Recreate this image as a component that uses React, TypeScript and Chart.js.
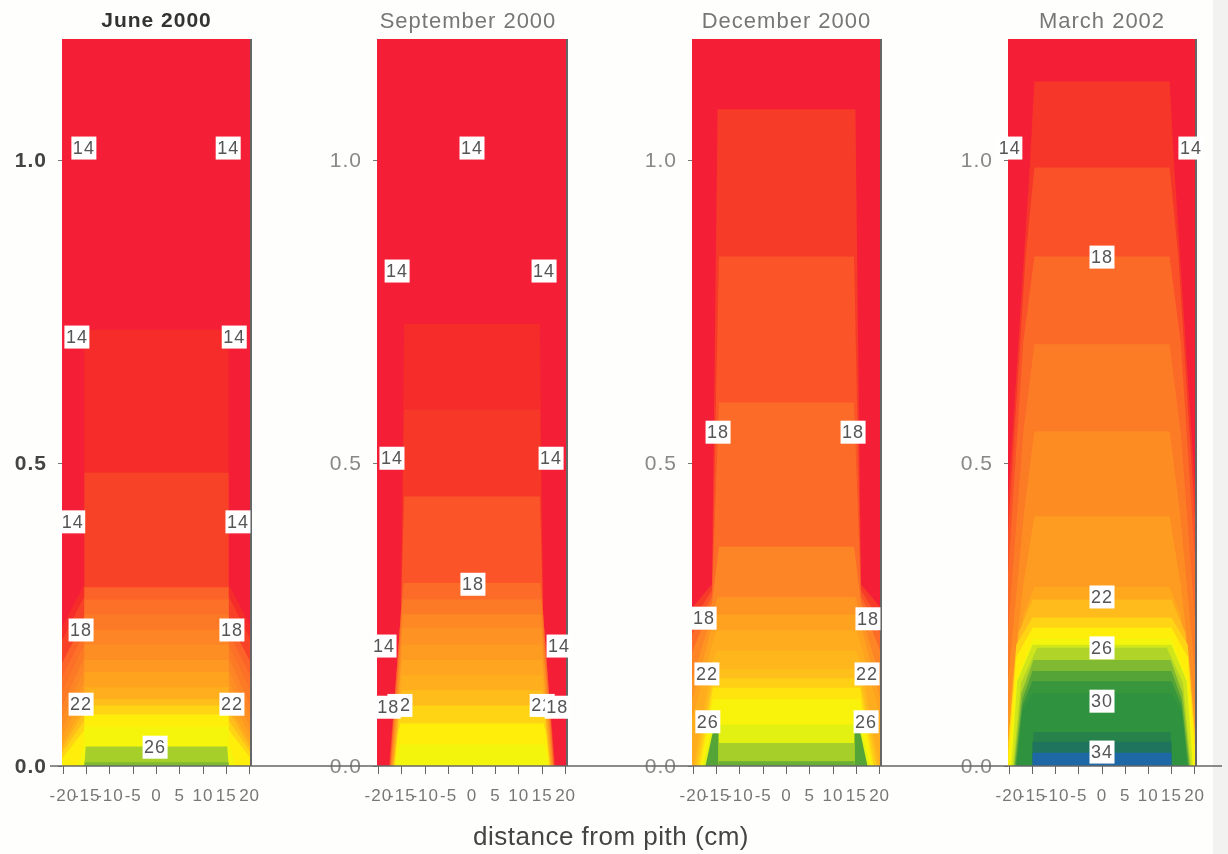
import React, { useEffect, useRef } from "react";
import { Chart, registerables } from "chart.js";

Chart.register(...registerables);

// Shared axis values
const xTickValues = [-20, -15, -10, -5, 0, 5, 10, 15, 20];
const yTickValues = [0, 0.5, 1.0];
const xLabel = "distance from pith (cm)";

// Temperature colour key
const paletteTemps = [14, 14.6, 15.5, 16.5, 17.4, 18.2, 19, 20, 21, 22, 23, 24, 25, 26, 27, 28, 29, 30, 32, 33, 34];
const paletteColors = [
  [244, 30, 55], [245, 44, 42], [248, 66, 40], [251, 88, 40], [252, 108, 40], [252, 122, 38], [253, 136, 36],
  [254, 152, 34], [255, 168, 30], [255, 186, 28], [255, 212, 20], [255, 238, 10], [240, 248, 12], [176, 212, 40],
  [128, 186, 50], [84, 164, 56], [56, 150, 60], [46, 146, 62], [38, 130, 74], [30, 116, 92], [30, 104, 166],
];

// June 2000 contour bands
const juneTemps = [14, 14.6, 15.5, 17, 17.6, 18.2, 18.8, 19.4, 20, 20.7, 21.4, 22.2, 23, 24, 24.7, 26.2, 27];
const juneTops = [1.2, 0.72, 0.484, 0.295, 0.275, 0.25, 0.225, 0.2, 0.175, 0.155, 0.13, 0.11, 0.1, 0.085, 0.065, 0.032, 0.006];
const juneTopWidths = [21, 15.5, 15.5, 15.5, 15.5, 15.5, 15.5, 15.5, 15.5, 15.5, 15.5, 15.5, 15.5, 15.5, 15.5, 15.2, 15.4];
const juneShoulderYs = [0.6, 0.3, 0.28, 0.24, 0.22, 0.2, 0.18, 0.16, 0.14, 0.12, 0.1, 0.09, 0.075, 0.06, 0.04, 0.01, 0.003];
const juneShoulderWidths = [21, 15.5, 15.5, 15.5, 15.5, 15.5, 15.5, 15.5, 15.5, 15.5, 15.5, 15.5, 15.5, 15.5, 15.5, 15.4, 15.5];
const juneBaseWidths = [21, 36, 34, 32, 30, 28, 26, 25, 24, 23.5, 23, 22.5, 22.2, 21.5, 17, 15.6, 15.6];
const juneLabelXs = [-15.6, 15.4, -17.1, 16.7, -18, 17.5, -16.2, 16.2, -16.2, 16.2, -0.3];
const juneLabelYs = [1.02, 1.02, 0.708, 0.708, 0.403, 0.403, 0.2245, 0.2245, 0.102, 0.102, 0.031];
const juneLabelTexts = ["14", "14", "14", "14", "14", "14", "18", "18", "22", "22", "26"];

// September 2000 contour bands
const septTemps = [14, 14.6, 15.1, 16.3, 17.4, 18.2, 19, 19.6, 20.2, 20.8, 21.4, 22.1, 23, 24, 24.8];
const septTops = [1.2, 0.73, 0.588, 0.445, 0.302, 0.275, 0.25, 0.228, 0.2, 0.175, 0.15, 0.125, 0.1, 0.07, 0.035];
const septTopWidths = [21, 14.5, 14.5, 14.5, 14.6, 14.8, 14.8, 15, 15, 15, 15, 15, 15, 15.3, 15.6];
const septShoulderYs = [0.6, 0.25, 0.25, 0.25, 0.25, 0.23, 0.21, 0.19, 0.17, 0.15, 0.12, 0.1, 0.08, 0.05, 0.02];
const septShoulderWidths = [21, 15.2, 15.2, 15.2, 15.2, 15.2, 15.2, 15.2, 15.2, 15.3, 15.4, 15.5, 15.6, 15.9, 16];
const septBaseWidths = [21, 17.8, 17.7, 17.6, 17.5, 17.4, 17.3, 17.2, 17.1, 17, 16.9, 16.8, 16.7, 16.5, 16.3];
const septLabelXs = [0, -16, 15.4, -17.1, 16.9, 0.2, -18.8, 18.6, -15.4, 15, -17.9, 18.2];
const septLabelYs = [1.02, 0.817, 0.817, 0.508, 0.508, 0.3, 0.198, 0.198, 0.1, 0.1, 0.097, 0.097];
const septLabelTexts = ["14", "14", "14", "14", "14", "18", "14", "14", "22", "22", "18", "18"];

// December 2000 contour bands
const decTemps = [14, 15.2, 16.3, 17.4, 18.8, 19.8, 20.6, 21.2, 21.8, 22.2, 22.8, 23.6, 24.4, 25.2, 28, 25.2, 26.2, 27.5];
const decTops = [1.2, 1.084, 0.841, 0.6, 0.362, 0.279, 0.25, 0.224, 0.19, 0.16, 0.145, 0.129, 0.11, 0.068, 0.058, 0.068, 0.038, 0.008];
const decTopWidths = [21, 14.8, 14.5, 14.5, 14.5, 14.8, 15, 15, 15, 15.2, 15.5, 15.8, 15.8, 15.8, 15.7, 14.6, 14.6, 14.6];
const decShoulderYs = [0.6, 0.3, 0.29, 0.28, 0.27, 0.25, 0.23, 0.2, 0.17, 0.14, 0.12, 0.1, 0.09, 0.05, 0.05, 0.03, 0.02, 0.004];
const decShoulderWidths = [21, 16, 16, 16, 16, 16, 16, 16, 16, 16.2, 16.3, 16.4, 16.3, 16.3, 16, 14.6, 14.6, 14.6];
const decBaseWidths = [21, 49, 40, 35, 30, 26, 24, 23, 20, 19.7, 19.3, 18.8, 18.4, 18, 17.4, 14.6, 14.7, 14.8];
const decLabelXs = [-14.7, 14.3, -17.7, 17.5, -17.1, 17.3, -16.9, 17.1];
const decLabelYs = [0.551, 0.551, 0.244, 0.243, 0.152, 0.152, 0.073, 0.073];
const decLabelTexts = ["18", "18", "18", "18", "22", "22", "26", "26"];

// March 2002 contour bands
const marTemps = [14, 15, 16.2, 17.3, 18.3, 19.3, 20.2, 21, 22, 23, 24, 24.8, 25.5, 26, 27, 28, 29, 30, 32, 33, 34];
const marTops = [1.2, 1.13, 0.988, 0.841, 0.696, 0.552, 0.412, 0.296, 0.275, 0.245, 0.228, 0.21, 0.2, 0.195, 0.175, 0.157, 0.14, 0.12, 0.056, 0.04, 0.022];
const marTopWidths = [21, 14.6, 14.6, 14.6, 14.6, 14.6, 14.6, 14.6, 15, 15, 15, 15, 15, 14, 14.8, 15, 15, 15, 14.8, 15, 15];
const marShoulderYs = [0.6, 0.99, 0.84, 0.7, 0.55, 0.42, 0.3, 0.25, 0.22, 0.2, 0.18, 0.14, 0.14, 0.137, 0.12, 0.11, 0.1, 0.09, 0.03, 0.02, 0.01];
const marShoulderWidths = [21, 15.6, 16.5, 17, 17, 16.8, 17, 17, 18, 18.5, 18.5, 18.5, 18.3, 17.5, 17.4, 17.2, 17.2, 17.2, 15, 15, 15];
const marBaseWidths = [21, 24, 23.5, 23, 22.5, 22, 21.5, 21, 20.8, 20.6, 20.4, 20, 19.6, 19.2, 19, 18.8, 18.6, 18.4, 15, 15, 15];
const marLabelXs = [-19.9, 19.2, 0, 0, 0, 0, 0];
const marLabelYs = [1.02, 1.02, 0.84, 0.279, 0.195, 0.107, 0.023];
const marLabelTexts = ["14", "14", "18", "22", "26", "30", "34"];

const panels = [
  {
    title: "June 2000", titleColor: "#333", titleWeight: "bold", titleSize: 21, titleFull: false, yColor: "#444", yWeight: "bold",
    temps: juneTemps, tops: juneTops, topWidths: juneTopWidths, shoulderYs: juneShoulderYs,
    shoulderWidths: juneShoulderWidths, baseWidths: juneBaseWidths,
    labelXs: juneLabelXs, labelYs: juneLabelYs, labelTexts: juneLabelTexts,
    left: 0, width: 322, plotLeft: 62, plotRight: 251, axisFrom: 50, axisTo: 322,
  },
  {
    title: "September 2000", titleColor: "#777", titleWeight: "normal", titleSize: 22, titleFull: true, yColor: "#888", yWeight: "normal",
    temps: septTemps, tops: septTops, topWidths: septTopWidths, shoulderYs: septShoulderYs,
    shoulderWidths: septShoulderWidths, baseWidths: septBaseWidths,
    labelXs: septLabelXs, labelYs: septLabelYs, labelTexts: septLabelTexts,
    left: 322, width: 292, plotLeft: 377, plotRight: 567, axisFrom: 322, axisTo: 614,
  },
  {
    title: "December 2000", titleColor: "#777", titleWeight: "normal", titleSize: 22, titleFull: false, yColor: "#888", yWeight: "normal",
    temps: decTemps, tops: decTops, topWidths: decTopWidths, shoulderYs: decShoulderYs,
    shoulderWidths: decShoulderWidths, baseWidths: decBaseWidths,
    labelXs: decLabelXs, labelYs: decLabelYs, labelTexts: decLabelTexts,
    left: 614, width: 336, plotLeft: 692, plotRight: 881, axisFrom: 614, axisTo: 950,
  },
  {
    title: "March 2002", titleColor: "#777", titleWeight: "normal", titleSize: 22, titleFull: false, yColor: "#888", yWeight: "normal",
    temps: marTemps, tops: marTops, topWidths: marTopWidths, shoulderYs: marShoulderYs,
    shoulderWidths: marShoulderWidths, baseWidths: marBaseWidths,
    labelXs: marLabelXs, labelYs: marLabelYs, labelTexts: marLabelTexts,
    left: 950, width: 278, plotLeft: 1008, plotRight: 1196, axisFrom: 950, axisTo: 1222,
  },
];

const FONT = '"Liberation Sans", Arial, sans-serif';
const PLOT_BOTTOM = 766;
const CANVAS_H = 854;

function colorFor(t: number) {
  let i = 0;
  while (i < paletteTemps.length - 2 && t > paletteTemps[i + 1]) i++;
  const f = Math.min(1, Math.max(0, (t - paletteTemps[i]) / (paletteTemps[i + 1] - paletteTemps[i])));
  const c = paletteColors[i].map((v, k) => Math.round(v + (paletteColors[i + 1][k] - v) * f));
  return `rgb(${c[0]},${c[1]},${c[2]})`;
}

function PanelChart({ p }: { p: (typeof panels)[number] }) {
  const ref = useRef<HTMLCanvasElement | null>(null);
  useEffect(() => {
    const textSpacing = {
      id: "textSpacing",
      beforeDraw(chart: any) {
        chart.ctx.letterSpacing = "1px";
      },
    };
    const frame = {
      id: "frame",
      afterDraw(chart: any) {
        const { ctx, chartArea, scales } = chart;
        ctx.save();
        ctx.strokeStyle = "#666";
        ctx.lineWidth = 2;
        ctx.beginPath();
        ctx.moveTo(chartArea.right, chartArea.top);
        ctx.lineTo(chartArea.right, chartArea.bottom);
        ctx.stroke();
        const y0 = scales.y.getPixelForValue(0);
        ctx.lineWidth = 1.5;
        ctx.beginPath();
        ctx.moveTo(p.axisFrom - p.left, y0);
        ctx.lineTo(p.axisTo - p.left, y0);
        ctx.stroke();
        ctx.restore();
      },
    };
    const contourLabels = {
      id: "contourLabels",
      afterDraw(chart: any) {
        const { ctx, scales } = chart;
        ctx.save();
        ctx.font = `18px ${FONT}`;
        ctx.textAlign = "center";
        ctx.textBaseline = "middle";
        p.labelTexts.forEach((text, i) => {
          const x = scales.x.getPixelForValue(p.labelXs[i]);
          const y = scales.y.getPixelForValue(p.labelYs[i]);
          ctx.fillStyle = "#fff";
          ctx.fillRect(x - 12.5, y - 11.5, 25, 23);
          ctx.fillStyle = "#555";
          ctx.fillText(text, x, y + 1);
        });
        ctx.restore();
      },
    };
    const datasets = p.temps.map((t, i) => ({
      label: String(t),
      data: [
        { x: -p.baseWidths[i], y: 0 },
        { x: -p.shoulderWidths[i], y: p.shoulderYs[i] },
        { x: -p.topWidths[i], y: p.tops[i] },
        { x: p.topWidths[i], y: p.tops[i] },
        { x: p.shoulderWidths[i], y: p.shoulderYs[i] },
        { x: p.baseWidths[i], y: 0 },
      ],
      showLine: true,
      fill: "shape",
      backgroundColor: colorFor(t),
      borderWidth: 0,
      pointRadius: 0,
      order: p.temps.length - i,
    }));
    const chart = new Chart(ref.current as HTMLCanvasElement, {
      type: "scatter",
      data: { datasets },
      plugins: [textSpacing, frame, contourLabels],
      options: {
        responsive: false,
        animation: false,
        events: [],
        layout: { padding: 0 },
        plugins: {
          legend: { display: false },
          tooltip: { enabled: false },
          title: {
            display: true,
            text: p.title,
            fullSize: p.titleFull,
            color: p.titleColor,
            font: { family: FONT, size: p.titleSize, weight: p.titleWeight, lineHeight: 1.2 },
            padding: { top: 9, bottom: 39 - 9 - p.titleSize * 1.2 },
          },
        },
        scales: {
          x: {
            type: "linear",
            min: -20.3,
            max: 20.3,
            afterBuildTicks: (s: any) => {
              s.ticks = xTickValues.map((value) => ({ value }));
            },
            afterFit: (s: any) => {
              s.height = CANVAS_H - PLOT_BOTTOM;
            },
            border: { display: false },
            grid: { drawOnChartArea: false, drawTicks: true, tickLength: 8, color: "#666" },
            ticks: {
              autoSkip: false,
              maxRotation: 0,
              minRotation: 0,
              padding: 12,
              color: "#777",
              font: { family: FONT, size: 17 },
            },
          },
          y: {
            type: "linear",
            min: 0,
            max: 1.2,
            afterBuildTicks: (s: any) => {
              s.ticks = yTickValues.map((value) => ({ value }));
            },
            afterFit: (s: any) => {
              s.width = p.plotLeft - p.left;
            },
            border: { display: false },
            grid: { drawOnChartArea: false, drawTicks: true, tickLength: 4, color: "#777" },
            ticks: {
              autoSkip: false,
              padding: 11,
              labelOffset: 1.5,
              color: p.yColor,
              font: { family: FONT, size: 21, weight: p.yWeight },
              callback: (v: any) => Number(v).toFixed(1),
            },
          },
          gutter: {
            type: "linear",
            position: "right",
            afterBuildTicks: (s: any) => {
              s.ticks = [];
            },
            afterFit: (s: any) => {
              s.width = p.width - (p.plotRight - p.left);
            },
            border: { display: false },
            grid: { display: false },
            ticks: { display: false },
          },
        },
      },
    } as any);
    return () => chart.destroy();
  }, [p]);
  return (
    <canvas
      ref={ref}
      width={p.width}
      height={CANVAS_H}
      style={{ position: "absolute", left: p.left, top: 0, display: "block", filter: "blur(0.6px)" }}
    />
  );
}

export default function App() {
  useEffect(() => {
    document.body.style.margin = "0";
    document.body.style.overflow = "hidden";
    document.body.style.background = "#fefefd";
  }, []);
  return (
    <div style={{ position: "absolute", left: 0, top: 0, width: 1228, height: 854, overflow: "hidden" }}>
      <div style={{ position: "absolute", left: 1213, top: 0, width: 15, height: 854, background: "#f2f2f0" }} />
      {panels.map((p) => (
        <PanelChart key={p.title} p={p} />
      ))}
      <div
        style={{
          position: "absolute",
          left: 411,
          width: 400,
          top: 821,
          textAlign: "center",
          font: `26px ${FONT}`,
          letterSpacing: "0.5px",
          color: "#444",
        }}
      >
        {xLabel}
      </div>
    </div>
  );
}
